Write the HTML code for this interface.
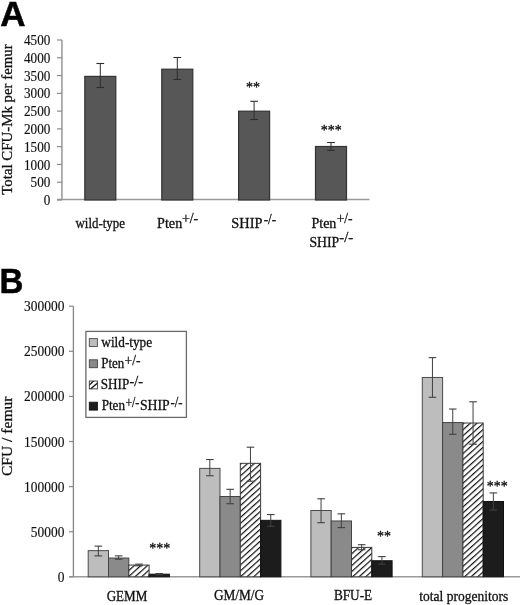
<!DOCTYPE html><html><head><meta charset="utf-8"><style>html,body{margin:0;padding:0;background:#fff;overflow:hidden;}svg{display:block;will-change:transform;}text{font-family:"Liberation Serif",serif;fill:#111;stroke:#111;stroke-width:0.3px;}</style></head><body>
<svg width="520" height="605" viewBox="0 0 520 605">
<defs>
<pattern id="hatch" patternUnits="userSpaceOnUse" x="0" y="0" width="4.41" height="4.41" patternTransform="translate(0,3.2) rotate(48)"><rect width="4.41" height="4.41" fill="#fff"/><rect x="0" y="0" width="1.2" height="4.41" fill="#111"/></pattern>
</defs>
<text x="0.2" y="25.6" style="font-family:'Liberation Sans',sans-serif;font-weight:bold;font-size:35px;fill:#000;stroke:#000;stroke-width:0.5px">A</text>
<text transform="translate(-0.6,293.0) scale(0.945,0.99)" style="font-family:'Liberation Sans',sans-serif;font-weight:bold;font-size:35px;fill:#000;stroke:#000;stroke-width:0.5px">B</text>
<line x1="61.9" y1="40" x2="61.9" y2="200" stroke="#ababab" stroke-width="1.9"/>
<line x1="57" y1="199.5" x2="369.5" y2="199.5" stroke="#9a9a9a" stroke-width="1.4"/>
<line x1="57" y1="200.00" x2="62" y2="200.00" stroke="#8a8a8a" stroke-width="1.2"/>
<text transform="translate(43.72,205.16) scale(1,1.12)" x="0" y="0" font-size="13.3" textLength="6.58" lengthAdjust="spacingAndGlyphs" style="stroke-width:0.15px">0</text>
<line x1="57" y1="182.22" x2="62" y2="182.22" stroke="#8a8a8a" stroke-width="1.2"/>
<text transform="translate(30.55,187.38) scale(1,1.12)" x="0" y="0" font-size="13.3" textLength="19.75" lengthAdjust="spacingAndGlyphs" style="stroke-width:0.15px">500</text>
<line x1="57" y1="164.44" x2="62" y2="164.44" stroke="#8a8a8a" stroke-width="1.2"/>
<text transform="translate(23.97,169.60) scale(1,1.12)" x="0" y="0" font-size="13.3" textLength="26.33" lengthAdjust="spacingAndGlyphs" style="stroke-width:0.15px">1000</text>
<line x1="57" y1="146.67" x2="62" y2="146.67" stroke="#8a8a8a" stroke-width="1.2"/>
<text transform="translate(23.97,151.83) scale(1,1.12)" x="0" y="0" font-size="13.3" textLength="26.33" lengthAdjust="spacingAndGlyphs" style="stroke-width:0.15px">1500</text>
<line x1="57" y1="128.89" x2="62" y2="128.89" stroke="#8a8a8a" stroke-width="1.2"/>
<text transform="translate(23.97,134.05) scale(1,1.12)" x="0" y="0" font-size="13.3" textLength="26.33" lengthAdjust="spacingAndGlyphs" style="stroke-width:0.15px">2000</text>
<line x1="57" y1="111.11" x2="62" y2="111.11" stroke="#8a8a8a" stroke-width="1.2"/>
<text transform="translate(23.97,116.27) scale(1,1.12)" x="0" y="0" font-size="13.3" textLength="26.33" lengthAdjust="spacingAndGlyphs" style="stroke-width:0.15px">2500</text>
<line x1="57" y1="93.33" x2="62" y2="93.33" stroke="#8a8a8a" stroke-width="1.2"/>
<text transform="translate(23.97,98.49) scale(1,1.12)" x="0" y="0" font-size="13.3" textLength="26.33" lengthAdjust="spacingAndGlyphs" style="stroke-width:0.15px">3000</text>
<line x1="57" y1="75.56" x2="62" y2="75.56" stroke="#8a8a8a" stroke-width="1.2"/>
<text transform="translate(23.97,80.72) scale(1,1.12)" x="0" y="0" font-size="13.3" textLength="26.33" lengthAdjust="spacingAndGlyphs" style="stroke-width:0.15px">3500</text>
<line x1="57" y1="57.78" x2="62" y2="57.78" stroke="#8a8a8a" stroke-width="1.2"/>
<text transform="translate(23.97,62.94) scale(1,1.12)" x="0" y="0" font-size="13.3" textLength="26.33" lengthAdjust="spacingAndGlyphs" style="stroke-width:0.15px">4000</text>
<line x1="57" y1="40.00" x2="62" y2="40.00" stroke="#8a8a8a" stroke-width="1.2"/>
<text transform="translate(23.97,45.16) scale(1,1.12)" x="0" y="0" font-size="13.3" textLength="26.33" lengthAdjust="spacingAndGlyphs" style="stroke-width:0.15px">4500</text>
<text transform="translate(11.60,194.40) rotate(-90)" x="-0.27" y="0" font-size="14.6" textLength="150.38" lengthAdjust="spacingAndGlyphs">Total CFU-Mk per femur</text>
<rect x="84.80" y="76.40" width="31" height="123.60" fill="#575757" stroke="#333" stroke-width="1.2"/>
<line x1="100.3" y1="63.50" x2="100.3" y2="87.50" stroke="#2e2e2e" stroke-width="1"/>
<line x1="96.45" y1="63.50" x2="104.14999999999999" y2="63.50" stroke="#2e2e2e" stroke-width="1.1"/>
<line x1="96.45" y1="87.50" x2="104.14999999999999" y2="87.50" stroke="#2e2e2e" stroke-width="1.1"/>
<rect x="161.80" y="69.20" width="31" height="130.80" fill="#575757" stroke="#333" stroke-width="1.2"/>
<line x1="177.3" y1="57.50" x2="177.3" y2="79.40" stroke="#2e2e2e" stroke-width="1"/>
<line x1="173.45000000000002" y1="57.50" x2="181.15" y2="57.50" stroke="#2e2e2e" stroke-width="1.1"/>
<line x1="173.45000000000002" y1="79.40" x2="181.15" y2="79.40" stroke="#2e2e2e" stroke-width="1.1"/>
<rect x="238.60" y="111.20" width="31" height="88.80" fill="#575757" stroke="#333" stroke-width="1.2"/>
<line x1="254.1" y1="101.30" x2="254.1" y2="119.50" stroke="#2e2e2e" stroke-width="1"/>
<line x1="250.25" y1="101.30" x2="257.95" y2="101.30" stroke="#2e2e2e" stroke-width="1.1"/>
<line x1="250.25" y1="119.50" x2="257.95" y2="119.50" stroke="#2e2e2e" stroke-width="1.1"/>
<rect x="315.50" y="146.50" width="31" height="53.50" fill="#575757" stroke="#333" stroke-width="1.2"/>
<line x1="331.0" y1="142.50" x2="331.0" y2="150.30" stroke="#2e2e2e" stroke-width="1"/>
<line x1="327.15" y1="142.50" x2="334.85" y2="142.50" stroke="#2e2e2e" stroke-width="1.1"/>
<line x1="327.15" y1="150.30" x2="334.85" y2="150.30" stroke="#2e2e2e" stroke-width="1.1"/>
<text x="253" y="91.6" font-size="14" text-anchor="middle">**</text>
<text x="331.3" y="134.6" font-size="14" text-anchor="middle">***</text>
<text x="75.50" y="227.70" font-size="14.2" textLength="49.43" lengthAdjust="spacingAndGlyphs">wild-type</text>
<text x="157.10" y="227.50" font-size="14.2" textLength="25.10" lengthAdjust="spacingAndGlyphs">Pten</text>
<text x="181.92" y="222.80" font-size="14.3" textLength="16.27" lengthAdjust="spacingAndGlyphs">+/-</text>
<text x="231.35" y="227.70" font-size="14.2" textLength="31.11" lengthAdjust="spacingAndGlyphs">SHIP</text>
<text x="263.71" y="223.60" font-size="14.3" textLength="12.46" lengthAdjust="spacingAndGlyphs">-/-</text>
<text x="311.41" y="227.80" font-size="14.2" textLength="25.00" lengthAdjust="spacingAndGlyphs">Pten</text>
<text x="336.63" y="223.10" font-size="14.3" textLength="15.95" lengthAdjust="spacingAndGlyphs">+/-</text>
<text x="309.39" y="246.60" font-size="14.2" textLength="29.85" lengthAdjust="spacingAndGlyphs">SHIP</text>
<text x="339.25" y="241.90" font-size="14.3" textLength="13.98" lengthAdjust="spacingAndGlyphs">-/-</text>
<line x1="73.4" y1="306.2" x2="73.4" y2="576.8" stroke="#858585" stroke-width="1.3"/>
<line x1="69.5" y1="576.8" x2="520" y2="576.8" stroke="#9a9a9a" stroke-width="1.5"/>
<line x1="69" y1="576.80" x2="73.5" y2="576.80" stroke="#8a8a8a" stroke-width="1.2"/>
<text transform="translate(57.69,581.86) scale(1,1.12)" x="0" y="0" font-size="13.3" textLength="6.72" lengthAdjust="spacingAndGlyphs" style="stroke-width:0.15px">0</text>
<line x1="69" y1="531.70" x2="73.5" y2="531.70" stroke="#8a8a8a" stroke-width="1.2"/>
<text transform="translate(30.83,536.76) scale(1,1.12)" x="0" y="0" font-size="13.3" textLength="33.58" lengthAdjust="spacingAndGlyphs" style="stroke-width:0.15px">50000</text>
<line x1="69" y1="486.60" x2="73.5" y2="486.60" stroke="#8a8a8a" stroke-width="1.2"/>
<text transform="translate(24.11,491.66) scale(1,1.12)" x="0" y="0" font-size="13.3" textLength="40.30" lengthAdjust="spacingAndGlyphs" style="stroke-width:0.15px">100000</text>
<line x1="69" y1="441.50" x2="73.5" y2="441.50" stroke="#8a8a8a" stroke-width="1.2"/>
<text transform="translate(24.11,446.56) scale(1,1.12)" x="0" y="0" font-size="13.3" textLength="40.30" lengthAdjust="spacingAndGlyphs" style="stroke-width:0.15px">150000</text>
<line x1="69" y1="396.40" x2="73.5" y2="396.40" stroke="#8a8a8a" stroke-width="1.2"/>
<text transform="translate(24.11,401.46) scale(1,1.12)" x="0" y="0" font-size="13.3" textLength="40.30" lengthAdjust="spacingAndGlyphs" style="stroke-width:0.15px">200000</text>
<line x1="69" y1="351.30" x2="73.5" y2="351.30" stroke="#8a8a8a" stroke-width="1.2"/>
<text transform="translate(24.11,356.36) scale(1,1.12)" x="0" y="0" font-size="13.3" textLength="40.30" lengthAdjust="spacingAndGlyphs" style="stroke-width:0.15px">250000</text>
<line x1="69" y1="306.20" x2="73.5" y2="306.20" stroke="#8a8a8a" stroke-width="1.2"/>
<text transform="translate(24.11,311.26) scale(1,1.12)" x="0" y="0" font-size="13.3" textLength="40.30" lengthAdjust="spacingAndGlyphs" style="stroke-width:0.15px">300000</text>
<text transform="translate(12.00,475.40) rotate(-90)" x="-0.64" y="0" font-size="14.6" textLength="79.46" lengthAdjust="spacingAndGlyphs">CFU / femur</text>
<rect x="88.20" y="550.64" width="20.30" height="26.16" fill="#bdbdbd" stroke="#4a4a4a" stroke-width="1"/>
<line x1="98.35" y1="546.13" x2="98.35" y2="555.87" stroke="#404040" stroke-width="1"/>
<line x1="94.55" y1="546.13" x2="102.15" y2="546.13" stroke="#404040" stroke-width="1.1"/>
<line x1="94.55" y1="555.87" x2="102.15" y2="555.87" stroke="#404040" stroke-width="1.1"/>
<rect x="108.50" y="558.04" width="20.30" height="18.76" fill="#8a8a8a" stroke="#444" stroke-width="1"/>
<line x1="118.65" y1="555.87" x2="118.65" y2="559.21" stroke="#404040" stroke-width="1"/>
<line x1="114.85" y1="555.87" x2="122.45" y2="555.87" stroke="#404040" stroke-width="1.1"/>
<line x1="114.85" y1="559.21" x2="122.45" y2="559.21" stroke="#404040" stroke-width="1.1"/>
<rect x="128.80" y="565.07" width="20.30" height="11.73" fill="url(#hatch)" stroke="#3a3a3a" stroke-width="1"/>
<line x1="138.95" y1="564.17" x2="138.95" y2="565.80" stroke="#404040" stroke-width="1"/>
<line x1="135.15" y1="564.17" x2="142.75" y2="564.17" stroke="#404040" stroke-width="1.1"/>
<line x1="135.15" y1="565.80" x2="142.75" y2="565.80" stroke="#404040" stroke-width="1.1"/>
<rect x="149.10" y="574.18" width="20.30" height="2.62" fill="#1c1c1c" stroke="#111" stroke-width="1"/>
<line x1="159.25" y1="573.55" x2="159.25" y2="574.73" stroke="#404040" stroke-width="1"/>
<line x1="155.45" y1="573.55" x2="163.05" y2="573.55" stroke="#404040" stroke-width="1.1"/>
<line x1="155.45" y1="574.73" x2="163.05" y2="574.73" stroke="#404040" stroke-width="1.1"/>
<rect x="199.70" y="468.38" width="20.30" height="108.42" fill="#bdbdbd" stroke="#4a4a4a" stroke-width="1"/>
<line x1="209.85" y1="459.54" x2="209.85" y2="475.78" stroke="#404040" stroke-width="1"/>
<line x1="206.05" y1="459.54" x2="213.65" y2="459.54" stroke="#404040" stroke-width="1.1"/>
<line x1="206.05" y1="475.78" x2="213.65" y2="475.78" stroke="#404040" stroke-width="1.1"/>
<rect x="220.00" y="496.52" width="20.30" height="80.28" fill="#8a8a8a" stroke="#444" stroke-width="1"/>
<line x1="230.15" y1="489.31" x2="230.15" y2="503.74" stroke="#404040" stroke-width="1"/>
<line x1="226.35" y1="489.31" x2="233.95" y2="489.31" stroke="#404040" stroke-width="1.1"/>
<line x1="226.35" y1="503.74" x2="233.95" y2="503.74" stroke="#404040" stroke-width="1.1"/>
<rect x="240.30" y="463.33" width="20.30" height="113.47" fill="url(#hatch)" stroke="#3a3a3a" stroke-width="1"/>
<line x1="250.45" y1="447.18" x2="250.45" y2="481.19" stroke="#404040" stroke-width="1"/>
<line x1="246.65" y1="447.18" x2="254.25" y2="447.18" stroke="#404040" stroke-width="1.1"/>
<line x1="246.65" y1="481.19" x2="254.25" y2="481.19" stroke="#404040" stroke-width="1.1"/>
<rect x="260.60" y="520.33" width="20.30" height="56.47" fill="#1c1c1c" stroke="#111" stroke-width="1"/>
<line x1="270.75" y1="514.56" x2="270.75" y2="526.29" stroke="#404040" stroke-width="1"/>
<line x1="266.95" y1="514.56" x2="274.55" y2="514.56" stroke="#404040" stroke-width="1.1"/>
<line x1="266.95" y1="526.29" x2="274.55" y2="526.29" stroke="#404040" stroke-width="1.1"/>
<rect x="310.90" y="510.50" width="20.30" height="66.30" fill="#bdbdbd" stroke="#4a4a4a" stroke-width="1"/>
<line x1="321.05" y1="498.78" x2="321.05" y2="522.68" stroke="#404040" stroke-width="1"/>
<line x1="317.25" y1="498.78" x2="324.85" y2="498.78" stroke="#404040" stroke-width="1.1"/>
<line x1="317.25" y1="522.68" x2="324.85" y2="522.68" stroke="#404040" stroke-width="1.1"/>
<rect x="331.20" y="520.97" width="20.30" height="55.83" fill="#8a8a8a" stroke="#444" stroke-width="1"/>
<line x1="341.35" y1="513.84" x2="341.35" y2="527.64" stroke="#404040" stroke-width="1"/>
<line x1="337.55" y1="513.84" x2="345.15" y2="513.84" stroke="#404040" stroke-width="1.1"/>
<line x1="337.55" y1="527.64" x2="345.15" y2="527.64" stroke="#404040" stroke-width="1.1"/>
<rect x="351.50" y="547.39" width="20.30" height="29.41" fill="url(#hatch)" stroke="#3a3a3a" stroke-width="1"/>
<line x1="361.65" y1="544.69" x2="361.65" y2="549.74" stroke="#404040" stroke-width="1"/>
<line x1="357.85" y1="544.69" x2="365.45" y2="544.69" stroke="#404040" stroke-width="1.1"/>
<line x1="357.85" y1="549.74" x2="365.45" y2="549.74" stroke="#404040" stroke-width="1.1"/>
<rect x="371.80" y="560.74" width="20.30" height="16.06" fill="#1c1c1c" stroke="#111" stroke-width="1"/>
<line x1="381.95" y1="556.60" x2="381.95" y2="564.17" stroke="#404040" stroke-width="1"/>
<line x1="378.15" y1="556.60" x2="385.75" y2="556.60" stroke="#404040" stroke-width="1.1"/>
<line x1="378.15" y1="564.17" x2="385.75" y2="564.17" stroke="#404040" stroke-width="1.1"/>
<rect x="422.30" y="377.46" width="20.30" height="199.34" fill="#bdbdbd" stroke="#4a4a4a" stroke-width="1"/>
<line x1="432.45" y1="357.61" x2="432.45" y2="397.30" stroke="#404040" stroke-width="1"/>
<line x1="428.65" y1="357.61" x2="436.25" y2="357.61" stroke="#404040" stroke-width="1.1"/>
<line x1="428.65" y1="397.30" x2="436.25" y2="397.30" stroke="#404040" stroke-width="1.1"/>
<rect x="442.60" y="422.56" width="20.30" height="154.24" fill="#8a8a8a" stroke="#444" stroke-width="1"/>
<line x1="452.75" y1="409.03" x2="452.75" y2="434.28" stroke="#404040" stroke-width="1"/>
<line x1="448.95" y1="409.03" x2="456.55" y2="409.03" stroke="#404040" stroke-width="1.1"/>
<line x1="448.95" y1="434.28" x2="456.55" y2="434.28" stroke="#404040" stroke-width="1.1"/>
<rect x="462.90" y="423.01" width="20.30" height="153.79" fill="url(#hatch)" stroke="#3a3a3a" stroke-width="1"/>
<line x1="473.05" y1="401.81" x2="473.05" y2="444.21" stroke="#404040" stroke-width="1"/>
<line x1="469.25" y1="401.81" x2="476.85" y2="401.81" stroke="#404040" stroke-width="1.1"/>
<line x1="469.25" y1="444.21" x2="476.85" y2="444.21" stroke="#404040" stroke-width="1.1"/>
<rect x="483.20" y="501.48" width="20.30" height="75.32" fill="#1c1c1c" stroke="#111" stroke-width="1"/>
<line x1="493.35" y1="492.91" x2="493.35" y2="510.05" stroke="#404040" stroke-width="1"/>
<line x1="489.55" y1="492.91" x2="497.15" y2="492.91" stroke="#404040" stroke-width="1.1"/>
<line x1="489.55" y1="510.05" x2="497.15" y2="510.05" stroke="#404040" stroke-width="1.1"/>
<text x="106.66" y="600.60" font-size="14.2" textLength="40.72" lengthAdjust="spacingAndGlyphs">GEMM</text>
<text x="213.96" y="600.10" font-size="14.2" textLength="50.16" lengthAdjust="spacingAndGlyphs">GM/M/G</text>
<text x="333.93" y="600.20" font-size="14.2" textLength="38.22" lengthAdjust="spacingAndGlyphs">BFU-E</text>
<text x="419.28" y="600.50" font-size="14.2" textLength="88.89" lengthAdjust="spacingAndGlyphs">total progenitors</text>
<text x="159.8" y="552.9" font-size="14" text-anchor="middle">***</text>
<text x="384.1" y="541.1" font-size="14" text-anchor="middle">**</text>
<text x="497.2" y="490.6" font-size="14" text-anchor="middle">***</text>
<rect x="85.9" y="331.4" width="100.5" height="86.0" fill="#fff" stroke="#6a6a6a" stroke-width="1.3"/>
<rect x="89.3" y="338.60" width="8.1" height="7.9" fill="#bdbdbd" stroke="#4a4a4a" stroke-width="0.9"/>
<rect x="89.3" y="359.80" width="8.1" height="7.9" fill="#8a8a8a" stroke="#444" stroke-width="0.9"/>
<clipPath id="swc"><rect x="89.3" y="381.00" width="8.1" height="7.9"/></clipPath>
<rect x="89.3" y="381.00" width="8.1" height="7.9" fill="#fff"/>
<g clip-path="url(#swc)" stroke="#111" stroke-width="1.3"><line x1="89.5" y1="389.90" x2="98.6" y2="382.10"/><line x1="88.0" y1="386.30" x2="93.8" y2="380.80"/></g>
<rect x="89.3" y="381.00" width="8.1" height="7.9" fill="none" stroke="#3a3a3a" stroke-width="0.9"/>
<rect x="89.3" y="402.20" width="8.1" height="7.9" fill="#1c1c1c" stroke="#111" stroke-width="0.9"/>
<text x="101.30" y="346.50" font-size="14.0" textLength="50.84" lengthAdjust="spacingAndGlyphs">wild-type</text>
<text x="101.34" y="368.20" font-size="14.0" textLength="22.95" lengthAdjust="spacingAndGlyphs">Pten</text>
<text x="124.54" y="365.10" font-size="14.2" textLength="15.84" lengthAdjust="spacingAndGlyphs">+/-</text>
<text x="100.84" y="389.10" font-size="14.0" textLength="28.38" lengthAdjust="spacingAndGlyphs">SHIP</text>
<text x="129.47" y="386.00" font-size="14.2" textLength="13.44" lengthAdjust="spacingAndGlyphs">-/-</text>
<text x="101.63" y="410.30" font-size="14.0" textLength="23.36" lengthAdjust="spacingAndGlyphs">Pten</text>
<text x="125.42" y="407.20" font-size="14.2" textLength="13.90" lengthAdjust="spacingAndGlyphs">+/-</text>
<text x="139.89" y="410.30" font-size="14.0" textLength="29.75" lengthAdjust="spacingAndGlyphs">SHIP</text>
<text x="170.43" y="407.20" font-size="14.2" textLength="12.03" lengthAdjust="spacingAndGlyphs">-/-</text>
</svg></body></html>
